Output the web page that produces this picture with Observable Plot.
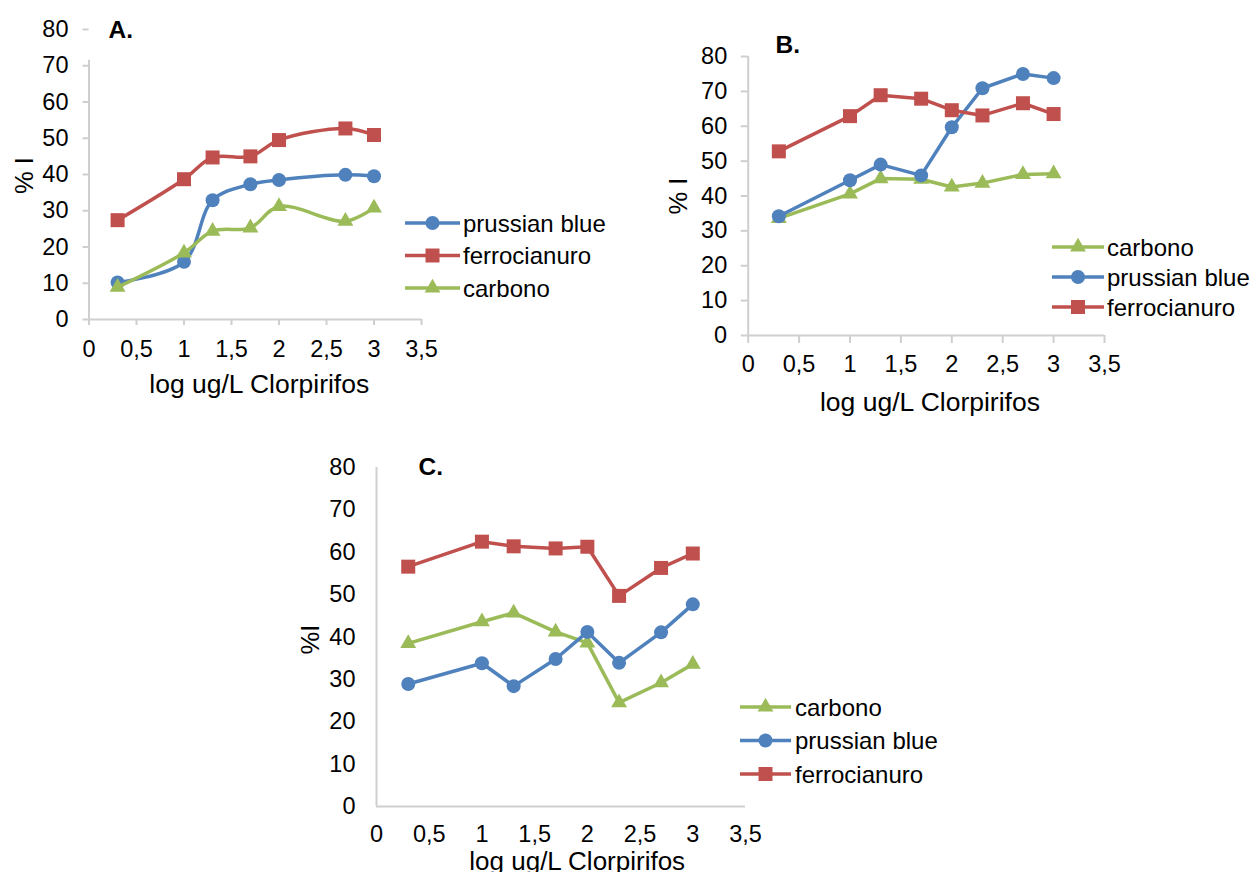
<!DOCTYPE html>
<html><head><meta charset="utf-8">
<script src="https://cdn.jsdelivr.net/npm/d3@7"></script>
<script src="https://cdn.jsdelivr.net/npm/@observablehq/plot@0.6"></script>
<style>
body{margin:0;background:#fff;}
#page{position:relative;width:1254px;height:872px;overflow:hidden;background:#fff;font-family:"Liberation Sans",Arial,sans-serif;}
.panel{position:absolute;}
.panel svg{overflow:visible;}
#legend{position:absolute;left:0;top:0;pointer-events:none;}
</style></head><body><div id="page"></div>
<script>
// ---- data ----
const xA = [0.301, 1, 1.301, 1.699, 2, 2.699, 3];
const prussianA = [10.2, 15.9, 32.9, 37.3, 38.5, 39.9, 39.5];
const ferroA    = [27.4, 38.7, 44.7, 45.0, 49.5, 52.7, 50.9];
const carbonoA  = [8.9, 18.4, 24.4, 25.3, 31.2, 27.1, 30.8];

const xBC = [0.301, 1, 1.301, 1.699, 2, 2.301, 2.699, 3];
const prussianB = [34.2, 44.5, 49.0, 45.9, 59.7, 70.9, 75.0, 73.8];
const ferroB    = [52.8, 62.9, 68.9, 67.9, 64.6, 63.1, 66.6, 63.5];
const carbonoB  = [33.6, 40.6, 45.0, 44.8, 42.6, 43.7, 46.2, 46.4];

const prussianC = [28.9, 33.8, 28.4, 34.8, 41.2, 33.9, 41.1, 47.7];
const ferroC    = [56.6, 62.5, 61.4, 60.9, 61.3, 49.7, 56.3, 59.7];
const carbonoC  = [38.5, 43.6, 45.7, 41.2, 38.6, 24.5, 29.2, 33.6];

const xTicks = [0, 0.5, 1, 1.5, 2, 2.5, 3, 3.5];
const yTicks = [0, 10, 20, 30, 40, 50, 60, 70, 80];
const xTitle = "log ug/L Clorpirifos";
const panelTitles = ["A.", "B.", "C."];
const yTitles = ["% I", "% I", "%I"];
const seriesNames = {p: "prussian blue", f: "ferrocianuro", c: "carbono"};

// ---- styles ----
const COLORS = {p: "#4F81BD", f: "#C0504D", c: "#9BBB59"};
const SYMBOLS = {p: "circle", f: "square", c: "triangle"};
const RADII = {p: 7, f: 7.9, c: 5.9};
const AXIS = "#cfcfcf";
const FONT = "'Liberation Sans', Arial, sans-serif";
const TICKFS = 23.5;
const fmt = d => String(d).replace(".", ",");

const page = document.getElementById("page");

function panel(cfg) {
  const marks = [];
  marks.push(Plot.ruleY([0], {stroke: AXIS, strokeWidth: 2}));
  marks.push(Plot.ruleX([0], {y1: 0, y2: cfg.yTop, stroke: AXIS, strokeWidth: 2}));
  marks.push(Plot.axisX({ticks: xTicks, tickFormat: fmt, tickSize: cfg.xTick, tickPadding: cfg.xPad,
    stroke: AXIS, strokeWidth: 2, fontSize: TICKFS, label: null}));
  marks.push(Plot.axisY({ticks: yTicks, tickSize: cfg.yTick, tickPadding: cfg.yPad,
    stroke: AXIS, strokeWidth: 2, fontSize: TICKFS, label: null}));
  for (const s of cfg.series) {
    const rows = s.values.map((v, i) => ({x: cfg.x[i], y: v}));
    marks.push(Plot.line(rows, {x: "x", y: "y", stroke: COLORS[s.key], strokeWidth: 3.5, curve: cfg.curve}));
    marks.push(Plot.dot(rows, {x: "x", y: "y", symbol: SYMBOLS[s.key], r: RADII[s.key], fill: COLORS[s.key], stroke: "none"}));
  }
  marks.push(Plot.text([xTitle], {text: d => d, frameAnchor: "bottom", dx: cfg.tdx, dy: cfg.tdy, fontSize: cfg.tfs, lineAnchor: "middle", fill: "#000"}));
  marks.push(Plot.text([cfg.yTitle], {text: d => d, frameAnchor: "left", rotate: -90, dx: cfg.ydx, dy: cfg.ydy, fontSize: 25.5, lineAnchor: "middle", textAnchor: "middle", fill: "#000"}));
  marks.push(Plot.text([cfg.title], {text: d => d, frameAnchor: "top-left", dx: cfg.pdx, dy: cfg.pdy, fontSize: 24.5, fontWeight: "bold", textAnchor: "start", lineAnchor: "middle", fill: "#000"}));
  const fig = Plot.plot({
    width: cfg.w, height: cfg.h,
    marginLeft: cfg.ml, marginRight: cfg.mr, marginTop: cfg.mt, marginBottom: cfg.mb,
    x: {domain: [0, 3.5]},
    y: {domain: [0, 80]},
    style: {fontFamily: FONT, fontSize: TICKFS + "px", color: "#000", background: "transparent", overflow: "visible"},
    marks
  });
  const div = document.createElement("div");
  div.className = "panel";
  div.style.left = cfg.left + "px";
  div.style.top = cfg.top + "px";
  div.appendChild(fig);
  page.appendChild(div);
}

// Panel A
panel({
  left: 0, top: 0, w: 450, h: 420, ml: 88.5, mr: 29, mt: 29, mb: 101,
  x: xA, curve: "catmull-rom", yTop: 71.5,
  series: [{key: "p", values: prussianA}, {key: "f", values: ferroA}, {key: "c", values: carbonoA}],
  xTick: 6, xPad: 14.5, yTick: 6, yPad: 14.5,
  tdx: 4, tdy: 65.5, tfs: 26.5, yTitle: yTitles[0], ydx: -64.5, ydy: 1,
  title: panelTitles[0], pdx: 19.5, pdy: 1
});
// Panel B
panel({
  left: 640, top: 0, w: 480, h: 420, ml: 107.7, mr: 16, mt: 56, mb: 85,
  x: xBC, curve: "linear", yTop: 80,
  series: [{key: "c", values: carbonoB}, {key: "p", values: prussianB}, {key: "f", values: ferroB}],
  xTick: 8, xPad: 11.5, yTick: 7, yPad: 14,
  tdx: 3.6, tdy: 67.5, tfs: 26.5, yTitle: yTitles[1], ydx: -69.7, ydy: 0,
  title: panelTitles[1], pdx: 27.3, pdy: -11
});
// Panel C
panel({
  left: 280, top: 440, w: 480, h: 432, ml: 96, mr: 15, mt: 27, mb: 66,
  x: xBC, curve: "linear", yTop: 80,
  series: [{key: "c", values: carbonoC}, {key: "p", values: prussianC}, {key: "f", values: ferroC}],
  xTick: 0, xPad: 18.5, yTick: 0, yPad: 21,
  tdx: 16.2, tdy: 55.5, tfs: 26, yTitle: yTitles[2], ydx: -66, ydy: 2.5,
  title: panelTitles[2], pdx: 42, pdy: 0
});

// ---- legends ----
const legends = [
  {keys: ["p", "f", "c"], rows: [223, 255.5, 288], x1: 405, x2: 460, tx: 463},
  {keys: ["c", "p", "f"], rows: [247, 277, 307], x1: 1052, x2: 1104, tx: 1107},
  {keys: ["c", "p", "f"], rows: [707, 740.5, 774], x1: 740, x2: 791, tx: 795}
];
const svg = d3.select(page).append("svg").attr("id", "legend").attr("width", 1254).attr("height", 872);
const symMap = {circle: d3.symbolCircle, square: d3.symbolSquare, triangle: d3.symbolTriangle};
for (const lg of legends) {
  lg.keys.forEach((k, i) => {
    const y = lg.rows[i];
    const g = svg.append("g");
    g.append("line").attr("x1", lg.x1).attr("x2", lg.x2).attr("y1", y).attr("y2", y)
      .attr("stroke", COLORS[k]).attr("stroke-width", 3.5);
    g.append("path").attr("d", d3.symbol(symMap[SYMBOLS[k]], Math.PI * RADII[k] * RADII[k])())
      .attr("transform", `translate(${(lg.x1 + lg.x2) / 2},${y})`).attr("fill", COLORS[k]);
    g.append("text").attr("x", lg.tx).attr("y", y + 8.5).attr("font-family", FONT).attr("font-size", 24)
      .attr("fill", "#000").text(seriesNames[k]);
  });
}
</script></body></html>
